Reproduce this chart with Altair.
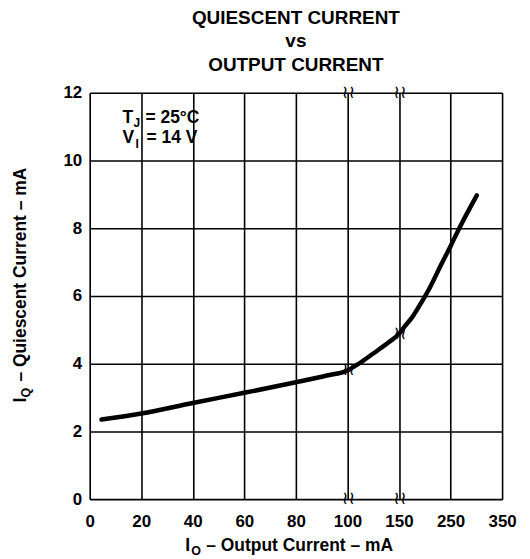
import altair as alt
import pandas as pd

# Broken x axis: tick values (mA), evenly spaced on the chart
x_ticks = [0, 20, 40, 60, 80, 100, 150, 250, 350]
y_ticks = [0, 2, 4, 6, 8, 10, 12]

# Curve
io_ma = [4.6, 20, 40, 60, 80, 92, 100, 110, 125, 140, 150, 160, 175, 190, 210, 230, 250, 267, 301]
iq_ma = [2.35, 2.53, 2.84, 3.14, 3.45, 3.65, 3.80, 3.98, 4.30, 4.63, 4.88, 5.08, 5.36, 5.72, 6.25, 6.87, 7.47, 8.0, 8.97]

# Axis breaks
break_x = [100, 150, 100, 150, 100, 150]
break_y = [0, 0, 12, 12, 3.8, 4.88]

W, H = 414, 408
FONT = "Liberation Sans"

xscale = alt.Scale(domain=x_ticks, range=[W * i / 8 for i in range(9)], nice=False, zero=False)
yscale = alt.Scale(domain=[0, 12], nice=False)

df = pd.DataFrame({"io": io_ma, "iq": iq_ma})
brk = pd.DataFrame({"x": break_x, "y": break_y})

xenc = alt.X("io:Q", scale=xscale,
             axis=alt.Axis(values=x_ticks, title=None, grid=True, gridColor="black",
                           gridWidth=1.6, gridOpacity=1, tickSize=0, domain=False,
                           labelFont=FONT, labelFontWeight="bold", labelFontSize=17,
                           labelColor="black", labelPadding=14, labelFlush=False))
yenc = alt.Y("iq:Q", scale=yscale,
             axis=alt.Axis(values=y_ticks, title=None, grid=True, gridColor="black",
                           gridWidth=1.6, gridOpacity=1, tickSize=0, domain=False,
                           labelFont=FONT, labelFontWeight="bold", labelFontSize=17,
                           labelColor="black", labelPadding=8))

line = alt.Chart(df).mark_line(color="black", strokeWidth=4.5, strokeCap="round",
                               interpolate="monotone").encode(x=xenc, y=yenc)

breaks = alt.Chart(brk).mark_text(text="≀≀", font="DejaVu Sans", fontSize=18,
                                  color="black", baseline="middle", dx=1).encode(
    x=alt.X("x:Q", scale=xscale), y=alt.Y("y:Q", scale=yscale))


def txt(s, x, y, size=17, angle=0, align="left"):
    return alt.Chart(pd.DataFrame({"t": [s]})).mark_text(
        font=FONT, fontWeight="bold", fontSize=size, color="black", align=align,
        baseline="alphabetic", angle=angle).encode(
        text="t:N", x=alt.value(x), y=alt.value(y))


notes = [
    txt("T", 33, 30, 17.5), txt("J", 44, 34, 12), txt("= 25°C", 56, 30, 17.5),
    txt("V", 33, 50, 17.5), txt("I", 46, 55, 12), txt("= 14 V", 57, 50, 17.5),
    txt("I", 96, 460, 17.5), txt("O", 102, 464, 12.5), txt("– Output Current – mA", 117, 460, 17.5),
    txt("I", -64, 311, 17.5, 270), txt("Q", -60, 306, 12.5, 270),
    txt("– Quiescent Current – mA", -64, 290, 17.5, 270),
]

chart = alt.layer(line, breaks, *notes).properties(
    width=W, height=H,
    title=alt.TitleParams(text=["QUIESCENT CURRENT", "vs", "OUTPUT CURRENT"], font=FONT,
                          fontSize=19, fontWeight="bold", lineHeight=23.5, anchor="middle",
                          offset=9, color="black"),
    autosize=alt.AutoSizeParams(type="none"),
    padding={"left": 82, "top": 84, "right": 20, "bottom": 59},
).configure_view(stroke="black", strokeWidth=2.5).configure(background="white")

chart.save("out.html", embed_options={"renderer": "svg", "actions": False})
